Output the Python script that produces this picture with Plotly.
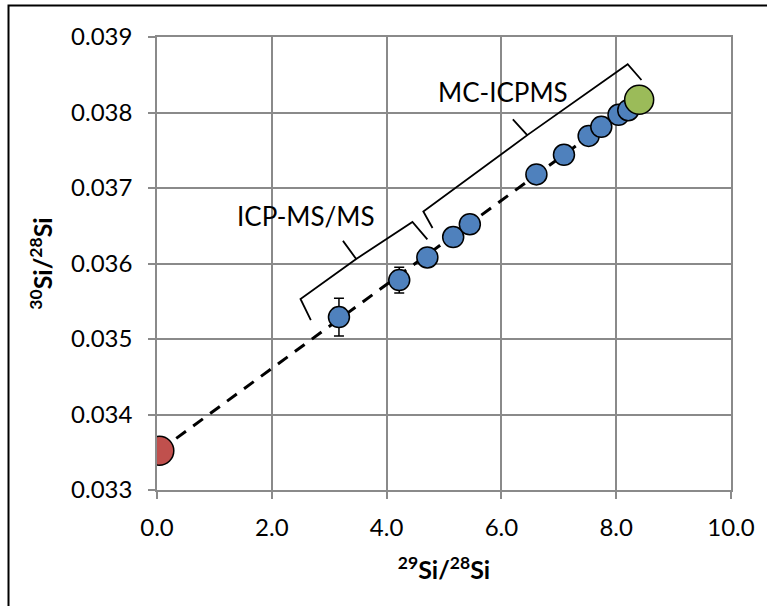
import plotly.graph_objects as go

# ---- data ----
si29_28 = [3.17, 4.22, 4.71, 5.16, 5.45, 6.61, 7.09, 7.52, 7.74, 8.04, 8.21]
si30_28 = [0.03529, 0.03578, 0.03608, 0.03635, 0.03652, 0.03718, 0.03744, 0.03769, 0.03781, 0.03797, 0.03803]
si30_err = [0.00025, 0.00017, 0, 0, 0, 0, 0, 0, 0, 0, 0]

natural_x = [0.04]
natural_y = [0.03352]
spike_x = [8.40]
spike_y = [0.03817]

x_ticks = [0, 2, 4, 6, 8, 10]
y_ticks = [0.033, 0.034, 0.035, 0.036, 0.037, 0.038, 0.039]

icp_brace_x = [2.68, 2.50, 3.47, 3.24, 3.47, 4.45, 4.71]
icp_brace_y = [0.03525, 0.03553, 0.03606, 0.03630, 0.03606, 0.03655, 0.03632]
mc_brace_x = [4.80, 4.64, 6.45, 6.20, 6.45, 8.20, 8.44]
mc_brace_y = [0.03647, 0.03669, 0.03770, 0.03791, 0.03770, 0.03864, 0.03843]

labels = ["ICP-MS/MS", "MC-ICPMS"]
label_x = [2.60, 6.02]
label_y = [0.03663, 0.03827]

FONT = "Lato"
GRID = "#8a8a8a"

fig = go.Figure()

# mixing line
fig.add_trace(go.Scatter(
    x=[natural_x[0], spike_x[0]], y=[natural_y[0], spike_y[0]],
    mode="lines", line=dict(color="black", width=3, dash="12px,9px"),
    hoverinfo="skip", showlegend=False))

# error bars (drawn beneath markers)
ex = [x for x, e in zip(si29_28, si30_err) if e > 0]
ey = [y for y, e in zip(si30_28, si30_err) if e > 0]
ee = [e for e in si30_err if e > 0]
fig.add_trace(go.Scatter(
    x=ex, y=ey, mode="markers", marker=dict(size=1, opacity=0),
    error_y=dict(type="data", array=ee, visible=True, color="black", thickness=1.5, width=5),
    hoverinfo="skip", showlegend=False))

fig.add_trace(go.Scatter(
    x=si29_28, y=si30_28, mode="markers",
    marker=dict(size=21, color="#4F81BD", line=dict(color="black", width=1.5)),
    showlegend=False))

fig.add_trace(go.Scatter(
    x=natural_x, y=natural_y, mode="markers",
    marker=dict(size=29, color="#C0504D", line=dict(color="black", width=1.5)),
    showlegend=False))
fig.add_trace(go.Scatter(
    x=spike_x, y=spike_y, mode="markers",
    marker=dict(size=29, color="#9BBB59", line=dict(color="black", width=1.5)),
    showlegend=False))

# braces
for bx, by in [(icp_brace_x, icp_brace_y), (mc_brace_x, mc_brace_y)]:
    fig.add_trace(go.Scatter(
        x=bx, y=by, mode="lines", line=dict(color="black", width=1.8),
        hoverinfo="skip", showlegend=False))

for t, lx, ly in zip(labels, label_x, label_y):
    fig.add_annotation(x=lx, y=ly, text=t, showarrow=False,
                       font=dict(family=FONT, size=26, color="black"),
                       xanchor="center", yanchor="middle")

# outer chart frame
fig.add_shape(type="rect", xref="paper", yref="paper",
              x0=-0.2587, x1=1.07, y0=-0.27, y1=1.0694,
              line=dict(color="black", width=2), fillcolor="rgba(0,0,0,0)")

fig.update_layout(
    width=767, height=606,
    margin=dict(l=157, r=34, t=37, b=116),
    paper_bgcolor="white", plot_bgcolor="white",
    font=dict(family=FONT, size=24, color="black"),
    showlegend=False,
    xaxis=dict(range=[0, 10], tickvals=x_ticks, tickformat=".1f",
               showgrid=True, gridcolor=GRID, gridwidth=1.5,
               showline=True, linecolor=GRID, linewidth=1.5, mirror=True,
               ticks="outside", ticklen=7, tickcolor=GRID, tickwidth=1.5,
               zeroline=False, ticklabelstandoff=8,
               title=dict(text="<b><sup>29</sup>Si/<sup>28</sup>Si</b>",
                          font=dict(family=FONT, size=25), standoff=22)),
    yaxis=dict(range=[0.033, 0.039], tickvals=y_ticks, tickformat=".3f",
               showgrid=True, gridcolor=GRID, gridwidth=1.5,
               showline=True, linecolor=GRID, linewidth=1.5, mirror=True,
               ticks="outside", ticklen=7, tickcolor=GRID, tickwidth=1.5,
               zeroline=False, ticklabelstandoff=11,
               title=dict(text="<b><sup>30</sup>Si/<sup>28</sup>Si</b>",
                          font=dict(family=FONT, size=25), standoff=11)),
)

fig.write_html("out.html", config={"displayModeBar": False},
               post_script="document.body.style.margin='0';")
